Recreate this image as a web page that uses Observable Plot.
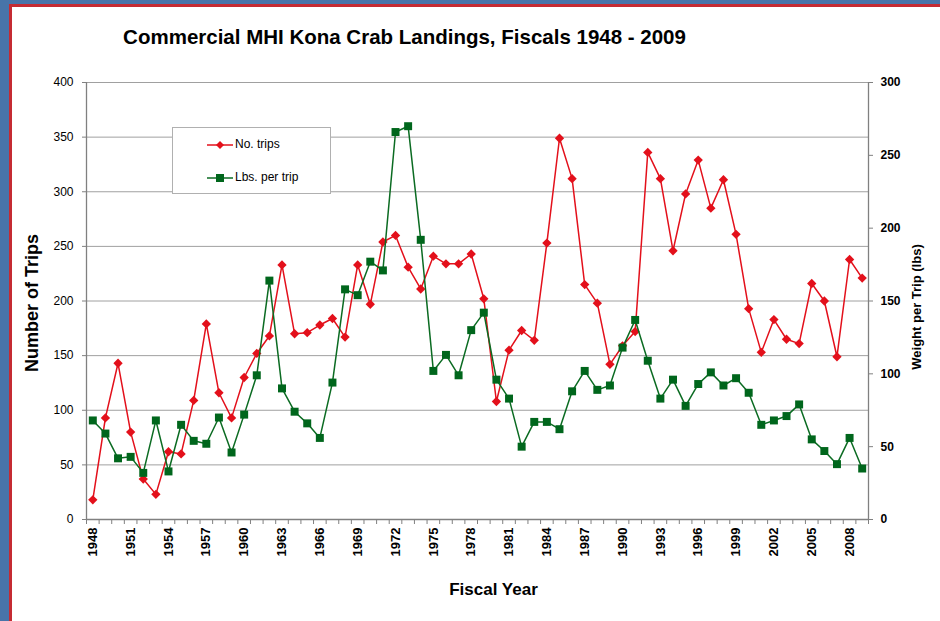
<!DOCTYPE html>
<html><head><meta charset="utf-8">
<script src="https://cdn.jsdelivr.net/npm/d3@7"></script>
<script src="https://cdn.jsdelivr.net/npm/@observablehq/plot@0.6"></script>
<style>
html,body{margin:0;padding:0;}
body{width:940px;height:621px;background:#4874a9;position:relative;overflow:hidden;font-family:"Liberation Sans",Arial,sans-serif;}
#sheet{position:absolute;left:9px;top:4px;right:0;bottom:0;background:#fff;border-left:3px solid #c52b33;border-top:3px solid #c52b33;}
#chart{position:absolute;left:0;top:0;width:940px;height:621px;}
#legend{position:absolute;left:172px;top:127px;width:159px;height:67px;box-sizing:border-box;border:1px solid #b0b0b0;background:#fff;z-index:2;}
.item{position:absolute;left:34px;height:14px;}
.item svg{position:absolute;left:0;top:0;}
.item span{position:absolute;left:28px;top:-1px;font-size:12px;white-space:nowrap;color:#000;line-height:14px;}
</style></head>
<body>
<div id="sheet"></div>
<div id="chart"></div>
<div id="legend">
  <div class="item" style="top:10px"><svg width="28" height="14"><line x1="0" y1="7" x2="26" y2="7" stroke="#e3101b" stroke-width="1.5"/><path d="M13,3 L17,7 L13,11 L9,7 Z" fill="#e3101b"/></svg><span>No. trips</span></div>
  <div class="item" style="top:43px"><svg width="28" height="14"><line x1="0" y1="7" x2="26" y2="7" stroke="#0b6b22" stroke-width="1.5"/><rect x="9" y="3" width="8" height="8" fill="#00661c"/></svg><span>Lbs. per trip</span></div>
</div>
<script>
const years = [1948,1949,1950,1951,1952,1953,1954,1955,1956,1957,1958,1959,
  1960,1961,1962,1963,1964,1965,1966,1967,1968,1969,
  1970,1971,1972,1973,1974,1975,1976,1977,1978,1979,
  1980,1981,1982,1983,1984,1985,1986,1987,1988,1989,
  1990,1991,1992,1993,1994,1995,1996,1997,1998,1999,
  2000,2001,2002,2003,2004,2005,2006,2007,2008,2009];
const trips = [18,93,143,80,37,23,62,60,109,179,116,93,
  130,152,168,233,170,171,178,184,167,233,
  197,254,260,231,211,241,234,234,243,202,
  108,155,173,164,253,349,312,215,198,142,
  159,172,336,312,246,298,329,285,311,261,
  193,153,183,165,161,216,200,149,238,221];
const lbs = [68,59,42,43,32,68,33,65,54,52,70,46,
  72,99,164,90,74,66,56,94,158,154,
  177,171,266,270,192,102,113,99,130,142,
  96,83,50,67,67,62,88,102,89,92,
  118,137,109,83,96,78,93,101,92,97,
  87,65,68,71,79,55,47,38,56,35];
const leftTicks = [0,50,100,150,200,250,300,350,400];
const rightTicks = [0,50,100,150,200,250,300];
const labelYears = [1948,1951,1954,1957,1960,1963,1966,1969,1972,1975,1978,1981,1984,1987,1990,1993,1996,1999,2002,2005,2008];
const title = "Commercial MHI Kona Crab Landings, Fiscals 1948 - 2009";
const xLabel = "Fiscal Year";
const yLeftLabel = "Number of Trips";
const yRightLabel = "Weight per Trip (lbs)";

const red = "#e3101b", green = "#0b6b22", greenFill = "#00661c";
const ratio = leftTicks[leftTicks.length-1] / rightTicks[rightTicks.length-1];
const data = years.map((year, i) => ({year, trips: trips[i], lbs: lbs[i]}));
const bounds = [years[0] - 0.5, ...years.map(y => y + 0.5)];

const chart = Plot.plot({
  width: 940, height: 621,
  marginLeft: 86, marginRight: 72, marginTop: 82, marginBottom: 102,
  style: {background: "transparent", fontFamily: "'Liberation Sans', Arial, sans-serif", fontSize: "12px", color: "#000", overflow: "visible"},
  x: {type: "linear", domain: [bounds[0], bounds[bounds.length - 1]]},
  y: {domain: [0, 400]},
  marks: [
    Plot.gridY(leftTicks, {stroke: "#a0a0a0", strokeOpacity: 1}),
    Plot.ruleX([bounds[0], bounds[bounds.length - 1]], {stroke: "#808080", strokeWidth: 1.3}),
    Plot.ruleY([0], {stroke: "#808080", strokeWidth: 1.3}),
    Plot.axisY({ticks: leftTicks, tickSize: 4, tickPadding: 9, label: null, stroke: "#808080", fontSize: 12}),
    Plot.axisY({anchor: "right", ticks: rightTicks.map(v => v * ratio), tickFormat: d => String(Math.round(d / ratio)), tickSize: 4, tickPadding: 8, label: null, fontWeight: "bold", stroke: "#808080", fontSize: 12}),
    Plot.axisX({ticks: bounds, tickSize: 5, tickFormat: () => "", label: null, stroke: "#808080"}),
    Plot.axisX({ticks: labelYears, tickSize: 0, tickPadding: 8, tickRotate: -90, tickFormat: d => String(d), label: null, fontWeight: "bold", fontSize: 13}),
    Plot.line(data, {x: "year", y: "trips", stroke: red, strokeWidth: 1.5}),
    Plot.dot(data, {x: "year", y: "trips", symbol: "diamond2", r: 4.2, fill: red}),
    Plot.line(data, {x: "year", y: d => d.lbs * ratio, stroke: green, strokeWidth: 1.5}),
    Plot.dot(data, {x: "year", y: d => d.lbs * ratio, symbol: "square", r: 4.5, fill: greenFill}),
    Plot.text([title], {text: d => d, frameAnchor: "top", lineAnchor: "middle", textAnchor: "middle", dx: -73, dy: -45, fontSize: 20.5, fontWeight: "bold"}),
    Plot.text([xLabel], {text: d => d, frameAnchor: "bottom", lineAnchor: "middle", textAnchor: "middle", dx: 16, dy: 70, fontSize: 17, fontWeight: "bold"}),
    Plot.text([yLeftLabel], {text: d => d, frameAnchor: "left", lineAnchor: "middle", textAnchor: "middle", dx: -54, dy: 2, rotate: -90, fontSize: 18, fontWeight: "bold"}),
    Plot.text([yRightLabel], {text: d => d, frameAnchor: "right", lineAnchor: "middle", textAnchor: "middle", dx: 48, dy: 6, rotate: -90, fontSize: 13, fontWeight: "bold"})
  ]
});
document.getElementById("chart").appendChild(chart);
</script>
</body></html>
